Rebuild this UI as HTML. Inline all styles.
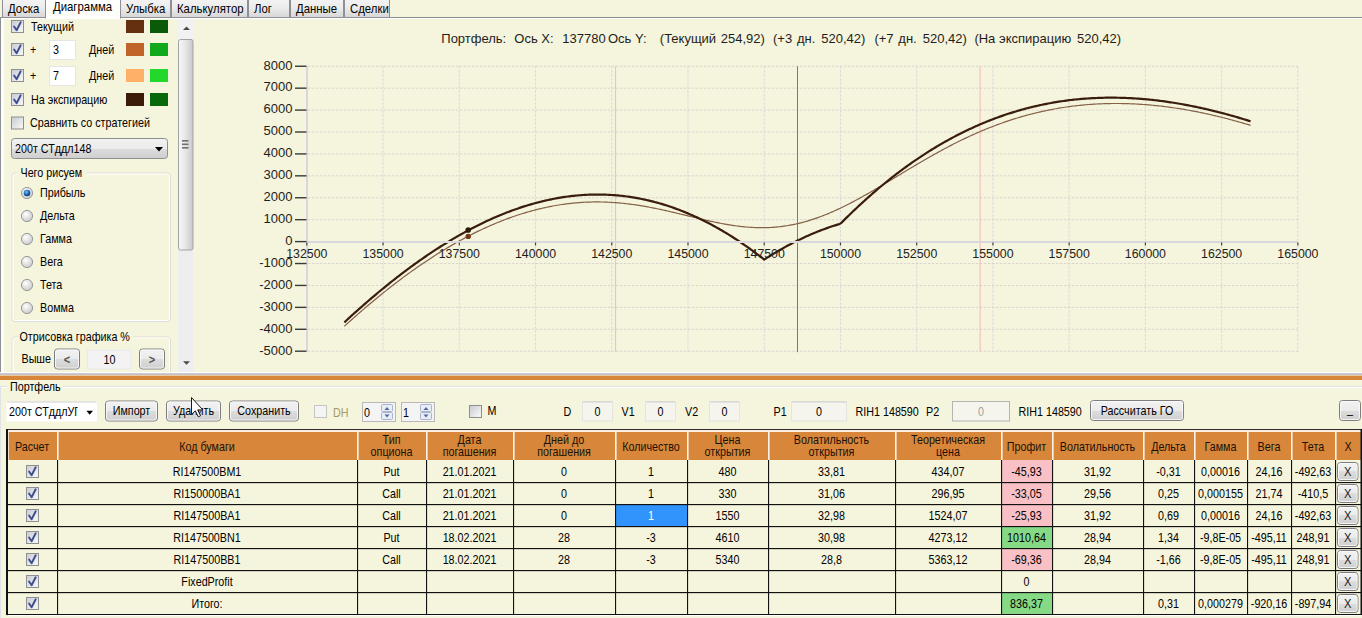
<!DOCTYPE html>
<html><head><meta charset="utf-8"><title>Портфель</title>
<style>html,body{margin:0;padding:0;background:#F5F4DC;overflow:hidden;width:1362px;height:618px}svg{display:block}</style>
</head><body>
<svg width="1362" height="618" viewBox="0 0 1362 618" font-family="'Liberation Sans', Arial, sans-serif">
<defs>
 <linearGradient id="gTab" x1="0" y1="0" x2="0" y2="1">
  <stop offset="0" stop-color="#f4f4f4"/><stop offset="0.5" stop-color="#ebebeb"/><stop offset="1" stop-color="#d6d6d6"/>
 </linearGradient>
 <linearGradient id="gSelTab" x1="0" y1="0" x2="0" y2="1">
  <stop offset="0" stop-color="#ffffff"/><stop offset="1" stop-color="#fbfbf6"/>
 </linearGradient>
 <linearGradient id="gBtn" x1="0" y1="0" x2="0" y2="1">
  <stop offset="0" stop-color="#f2f2f2"/><stop offset="0.5" stop-color="#ebebeb"/><stop offset="0.5" stop-color="#dddddd"/><stop offset="1" stop-color="#cfcfcf"/>
 </linearGradient>
 <linearGradient id="gChk" x1="0" y1="0" x2="1" y2="1">
  <stop offset="0" stop-color="#cbcfd5"/><stop offset="1" stop-color="#f6f6f6"/>
 </linearGradient>
 <linearGradient id="gThumb" x1="0" y1="0" x2="1" y2="0">
  <stop offset="0" stop-color="#f7f7f7"/><stop offset="0.45" stop-color="#e8e8ea"/><stop offset="1" stop-color="#c9c9cc"/>
 </linearGradient>
 <radialGradient id="gRadio" cx="0.4" cy="0.35" r="0.7">
  <stop offset="0" stop-color="#ffffff"/><stop offset="1" stop-color="#c8c8c8"/>
 </radialGradient>
 <radialGradient id="gRadioOn" cx="0.4" cy="0.35" r="0.6">
  <stop offset="0" stop-color="#7fc4f4"/><stop offset="0.6" stop-color="#1f6fc0"/><stop offset="1" stop-color="#0d3f7a"/>
 </radialGradient>
</defs>
<rect x="0" y="0" width="1362" height="618" fill="#F5F4DC" />
<rect x="2.5" y="-1.5" width="43" height="19" fill="url(#gTab)" stroke="#8f9095" stroke-width="1" />
<text transform="translate(8.00 13.00) scale(0.91 1)" font-size="12.5" fill="#000" text-anchor="start" >Доска</text>
<rect x="120.5" y="-1.5" width="50" height="19" fill="url(#gTab)" stroke="#8f9095" stroke-width="1" />
<text transform="translate(126.00 13.00) scale(0.91 1)" font-size="12.5" fill="#000" text-anchor="start" >Улыбка</text>
<rect x="171.5" y="-1.5" width="76" height="19" fill="url(#gTab)" stroke="#8f9095" stroke-width="1" />
<text transform="translate(177.00 13.00) scale(0.91 1)" font-size="12.5" fill="#000" text-anchor="start" >Калькулятор</text>
<rect x="248.5" y="-1.5" width="41" height="19" fill="url(#gTab)" stroke="#8f9095" stroke-width="1" />
<text transform="translate(254.00 13.00) scale(0.91 1)" font-size="12.5" fill="#000" text-anchor="start" >Лог</text>
<rect x="290.5" y="-1.5" width="53" height="19" fill="url(#gTab)" stroke="#8f9095" stroke-width="1" />
<text transform="translate(296.00 13.00) scale(0.91 1)" font-size="12.5" fill="#000" text-anchor="start" >Данные</text>
<rect x="344.5" y="-1.5" width="45" height="19" fill="url(#gTab)" stroke="#8f9095" stroke-width="1" />
<text transform="translate(350.00 13.00) scale(0.91 1)" font-size="12.5" fill="#000" text-anchor="start" >Сделки</text>
<line x1="0" y1="17.5" x2="1362" y2="17.5" stroke="#8f9095" stroke-width="1" />
<line x1="0" y1="18.5" x2="1362" y2="18.5" stroke="#ffffff" stroke-width="1" />
<rect x="45.5" y="-1.5" width="75" height="19.5" fill="url(#gSelTab)" stroke="#8f9095" stroke-width="1" />
<rect x="46" y="16" width="74" height="3" fill="#ffffff" />
<text transform="translate(53.00 11.00) scale(0.91 1)" font-size="12.5" fill="#000" text-anchor="start" >Диаграмма</text>
<line x1="0.5" y1="17" x2="0.5" y2="374" stroke="#8f9095" stroke-width="1" />
<rect x="1" y="19" width="3" height="353" fill="#fdfdf8" />
<line x1="1" y1="372.5" x2="195" y2="372.5" stroke="#ffffff" stroke-width="1" />
<rect x="11.5" y="20.5" width="12" height="12" fill="url(#gChk)" stroke="#8e8f8f" stroke-width="1" />
<rect x="13" y="22" width="9" height="9" fill="url(#gChk)" />
<path d="M14.1,26.5 L16.6,30.3 L20.7,22.3" fill="none" stroke="#3d4e8f" stroke-width="1.9" stroke-linejoin="round" stroke-linecap="round"/>
<text transform="translate(31.00 31.00) scale(0.86 1)" font-size="12.5" fill="#000" text-anchor="start" >Текущий</text>
<rect x="126" y="20" width="18" height="13" fill="#64300F" />
<rect x="150" y="20" width="18" height="13" fill="#0A5A0A" />
<rect x="11.5" y="43.5" width="12" height="12" fill="url(#gChk)" stroke="#8e8f8f" stroke-width="1" />
<rect x="13" y="45" width="9" height="9" fill="url(#gChk)" />
<path d="M14.1,49.5 L16.6,53.3 L20.7,45.3" fill="none" stroke="#3d4e8f" stroke-width="1.9" stroke-linejoin="round" stroke-linecap="round"/>
<text transform="translate(30.00 54.00) scale(0.86 1)" font-size="12.5" fill="#000" text-anchor="start" >+</text>
<rect x="49.5" y="40.5" width="26" height="19" fill="#ffffff" stroke="#e6e6e6" stroke-width="1" />
<text transform="translate(53.00 54.00) scale(0.86 1)" font-size="12.5" fill="#000" text-anchor="start" >3</text>
<text transform="translate(89.00 54.00) scale(0.86 1)" font-size="12.5" fill="#000" text-anchor="start" >Дней</text>
<rect x="126" y="43" width="18" height="13" fill="#C0642A" />
<rect x="150" y="43" width="18" height="13" fill="#12A81C" />
<rect x="11.5" y="69.5" width="12" height="12" fill="url(#gChk)" stroke="#8e8f8f" stroke-width="1" />
<rect x="13" y="71" width="9" height="9" fill="url(#gChk)" />
<path d="M14.1,75.5 L16.6,79.3 L20.7,71.3" fill="none" stroke="#3d4e8f" stroke-width="1.9" stroke-linejoin="round" stroke-linecap="round"/>
<text transform="translate(30.00 80.00) scale(0.86 1)" font-size="12.5" fill="#000" text-anchor="start" >+</text>
<rect x="49.5" y="66.5" width="26" height="19" fill="#ffffff" stroke="#e6e6e6" stroke-width="1" />
<text transform="translate(53.00 80.00) scale(0.86 1)" font-size="12.5" fill="#000" text-anchor="start" >7</text>
<text transform="translate(89.00 80.00) scale(0.86 1)" font-size="12.5" fill="#000" text-anchor="start" >Дней</text>
<rect x="126" y="69" width="18" height="13" fill="#FDB066" />
<rect x="150" y="69" width="18" height="13" fill="#22D82A" />
<rect x="11.5" y="93.5" width="12" height="12" fill="url(#gChk)" stroke="#8e8f8f" stroke-width="1" />
<rect x="13" y="95" width="9" height="9" fill="url(#gChk)" />
<path d="M14.1,99.5 L16.6,103.3 L20.7,95.3" fill="none" stroke="#3d4e8f" stroke-width="1.9" stroke-linejoin="round" stroke-linecap="round"/>
<text transform="translate(31.00 104.00) scale(0.86 1)" font-size="12.5" fill="#000" text-anchor="start" >На экспирацию</text>
<rect x="126" y="93" width="18" height="13" fill="#3C1B08" />
<rect x="150" y="93" width="18" height="13" fill="#08690A" />
<rect x="11.5" y="117.0" width="12" height="12" fill="url(#gChk)" stroke="#8e8f8f" stroke-width="1" />
<rect x="13" y="118.5" width="9" height="9" fill="url(#gChk)" />
<text transform="translate(30.00 127.00) scale(0.86 1)" font-size="12.5" fill="#000" text-anchor="start" >Сравнить со стратегией</text>
<rect x="11.5" y="138.5" width="156" height="20" fill="url(#gBtn)" stroke="#8e8f8f" stroke-width="1" rx="3" />
<text transform="translate(15.00 153.00) scale(0.86 1)" font-size="12.5" fill="#000" text-anchor="start" >200т СТддл148</text>
<path d="M155,147 L163,147 L159,151.5 Z" fill="#000"/>
<rect x="12.0" y="173.0" width="158.5" height="148.5" fill="none" stroke="#dcdcd8" stroke-width="1" rx="3" />
<rect x="13.0" y="174.0" width="156.5" height="146.5" fill="none" stroke="#ffffff" stroke-width="1" rx="2" />
<rect x="18.5" y="168.5" width="68" height="8" fill="#F5F4DC" />
<text transform="translate(20.50 176.50) scale(0.86 1)" font-size="12.5" fill="#000" text-anchor="start" >Чего рисуем</text>
<circle cx="27" cy="193" r="5.6" fill="url(#gRadio)" stroke="#9a9a9a" stroke-width="1"/>
<circle cx="27" cy="193" r="3.3" fill="url(#gRadioOn)"/>
<text transform="translate(40.00 197.00) scale(0.86 1)" font-size="12.5" fill="#000" text-anchor="start" >Прибыль</text>
<circle cx="27" cy="216" r="5.6" fill="url(#gRadio)" stroke="#9a9a9a" stroke-width="1"/>
<text transform="translate(40.00 220.00) scale(0.86 1)" font-size="12.5" fill="#000" text-anchor="start" >Дельта</text>
<circle cx="27" cy="239" r="5.6" fill="url(#gRadio)" stroke="#9a9a9a" stroke-width="1"/>
<text transform="translate(40.00 243.00) scale(0.86 1)" font-size="12.5" fill="#000" text-anchor="start" >Гамма</text>
<circle cx="27" cy="262" r="5.6" fill="url(#gRadio)" stroke="#9a9a9a" stroke-width="1"/>
<text transform="translate(40.00 266.00) scale(0.86 1)" font-size="12.5" fill="#000" text-anchor="start" >Вега</text>
<circle cx="27" cy="285" r="5.6" fill="url(#gRadio)" stroke="#9a9a9a" stroke-width="1"/>
<text transform="translate(40.00 289.00) scale(0.86 1)" font-size="12.5" fill="#000" text-anchor="start" >Тета</text>
<circle cx="27" cy="308" r="5.6" fill="url(#gRadio)" stroke="#9a9a9a" stroke-width="1"/>
<text transform="translate(40.00 312.00) scale(0.86 1)" font-size="12.5" fill="#000" text-anchor="start" >Вомма</text>
<clipPath id="cpLP"><rect x="0" y="0" width="178" height="372"/></clipPath><g clip-path="url(#cpLP)">
<rect x="12.0" y="337.0" width="158.5" height="43.5" fill="none" stroke="#dcdcd8" stroke-width="1" rx="3" />
<rect x="13.0" y="338.0" width="156.5" height="41.5" fill="none" stroke="#ffffff" stroke-width="1" rx="2" />
<rect x="17.5" y="332.5" width="116" height="8" fill="#F5F4DC" />
<text transform="translate(19.50 340.50) scale(0.86 1)" font-size="12.5" fill="#000" text-anchor="start" >Отрисовка графика %</text>
</g>
<text transform="translate(21.50 363.00) scale(0.86 1)" font-size="12.5" fill="#000" text-anchor="start" >Выше</text>
<rect x="54.5" y="349.0" width="25" height="20" fill="url(#gBtn)" stroke="#7e7e7e" stroke-width="1" rx="3" />
<rect x="55.5" y="350.0" width="23" height="18" fill="none" stroke="#fbfbfb" stroke-width="1" rx="2" stroke-opacity="0.8"/>
<text transform="translate(67.00 363.00) scale(0.86 1)" font-size="12.5" fill="#444" text-anchor="middle" ></text>
<text x="67" y="364" font-size="13" font-weight="bold" fill="#555" text-anchor="middle" transform="translate(67 0) scale(0.85 1) translate(-67 0)">&lt;</text>
<rect x="87.5" y="350" width="43.5" height="19" fill="#f3f3f3" stroke="#e8e8e8" stroke-width="1" />
<text transform="translate(109.50 364.00) scale(0.86 1)" font-size="12.5" fill="#000" text-anchor="middle" >10</text>
<rect x="139.5" y="349.0" width="25" height="20" fill="url(#gBtn)" stroke="#7e7e7e" stroke-width="1" rx="3" />
<rect x="140.5" y="350.0" width="23" height="18" fill="none" stroke="#fbfbfb" stroke-width="1" rx="2" stroke-opacity="0.8"/>
<text transform="translate(152.00 363.00) scale(0.86 1)" font-size="12.5" fill="#444" text-anchor="middle" ></text>
<text x="152" y="364" font-size="13" font-weight="bold" fill="#555" text-anchor="middle" transform="translate(152 0) scale(0.85 1) translate(-152 0)">&gt;</text>
<rect x="178" y="19" width="15.5" height="354" fill="#eeeef1" />
<rect x="178" y="19" width="15.5" height="20" fill="#f2f2f4" />
<path d="M183,30 L190,30 L186.5,26.5 Z" fill="#4a4a4a"/>
<rect x="178.5" y="39.5" width="14.5" height="210.5" fill="url(#gThumb)" stroke="#a3a3a6" stroke-width="1" rx="2" />
<rect x="182" y="140" width="6.5" height="1.6" fill="#707070" />
<rect x="182" y="143.5" width="6.5" height="1.6" fill="#707070" />
<rect x="182" y="147" width="6.5" height="1.6" fill="#707070" />
<path d="M183,361.3 L190,361.3 L186.5,364.8 Z" fill="#4a4a4a"/>
<line x1="307.82" y1="351.2" x2="1297.875" y2="351.2" stroke="#d8d6cf" stroke-width="1" stroke-dasharray="2.5,1.5"/>
<line x1="307.82" y1="329.28" x2="1297.875" y2="329.28" stroke="#d8d6cf" stroke-width="1" stroke-dasharray="2.5,1.5"/>
<line x1="307.82" y1="307.36" x2="1297.875" y2="307.36" stroke="#d8d6cf" stroke-width="1" stroke-dasharray="2.5,1.5"/>
<line x1="307.82" y1="285.44" x2="1297.875" y2="285.44" stroke="#d8d6cf" stroke-width="1" stroke-dasharray="2.5,1.5"/>
<line x1="307.82" y1="263.52" x2="1297.875" y2="263.52" stroke="#d8d6cf" stroke-width="1" stroke-dasharray="2.5,1.5"/>
<line x1="307.82" y1="219.68" x2="1297.875" y2="219.68" stroke="#d8d6cf" stroke-width="1" stroke-dasharray="2.5,1.5"/>
<line x1="307.82" y1="197.76" x2="1297.875" y2="197.76" stroke="#d8d6cf" stroke-width="1" stroke-dasharray="2.5,1.5"/>
<line x1="307.82" y1="175.84" x2="1297.875" y2="175.84" stroke="#d8d6cf" stroke-width="1" stroke-dasharray="2.5,1.5"/>
<line x1="307.82" y1="153.92000000000002" x2="1297.875" y2="153.92000000000002" stroke="#d8d6cf" stroke-width="1" stroke-dasharray="2.5,1.5"/>
<line x1="307.82" y1="132.0" x2="1297.875" y2="132.0" stroke="#d8d6cf" stroke-width="1" stroke-dasharray="2.5,1.5"/>
<line x1="307.82" y1="110.08000000000001" x2="1297.875" y2="110.08000000000001" stroke="#d8d6cf" stroke-width="1" stroke-dasharray="2.5,1.5"/>
<line x1="307.82" y1="88.16" x2="1297.875" y2="88.16" stroke="#d8d6cf" stroke-width="1" stroke-dasharray="2.5,1.5"/>
<line x1="307.82" y1="66.24000000000001" x2="1297.875" y2="66.24000000000001" stroke="#d8d6cf" stroke-width="1" stroke-dasharray="2.5,1.5"/>
<line x1="383.055" y1="66.24000000000001" x2="383.055" y2="351.7" stroke="#d9d7dd" stroke-width="1" stroke-dasharray="2.5,1.5"/>
<line x1="459.28999999999996" y1="66.24000000000001" x2="459.28999999999996" y2="351.7" stroke="#d9d7dd" stroke-width="1" stroke-dasharray="2.5,1.5"/>
<line x1="535.525" y1="66.24000000000001" x2="535.525" y2="351.7" stroke="#d9d7dd" stroke-width="1" stroke-dasharray="2.5,1.5"/>
<line x1="611.76" y1="66.24000000000001" x2="611.76" y2="351.7" stroke="#d9d7dd" stroke-width="1" stroke-dasharray="2.5,1.5"/>
<line x1="687.995" y1="66.24000000000001" x2="687.995" y2="351.7" stroke="#d9d7dd" stroke-width="1" stroke-dasharray="2.5,1.5"/>
<line x1="764.23" y1="66.24000000000001" x2="764.23" y2="351.7" stroke="#d9d7dd" stroke-width="1" stroke-dasharray="2.5,1.5"/>
<line x1="840.4649999999999" y1="66.24000000000001" x2="840.4649999999999" y2="351.7" stroke="#d9d7dd" stroke-width="1" stroke-dasharray="2.5,1.5"/>
<line x1="916.7" y1="66.24000000000001" x2="916.7" y2="351.7" stroke="#d9d7dd" stroke-width="1" stroke-dasharray="2.5,1.5"/>
<line x1="992.935" y1="66.24000000000001" x2="992.935" y2="351.7" stroke="#d9d7dd" stroke-width="1" stroke-dasharray="2.5,1.5"/>
<line x1="1069.17" y1="66.24000000000001" x2="1069.17" y2="351.7" stroke="#d9d7dd" stroke-width="1" stroke-dasharray="2.5,1.5"/>
<line x1="1145.405" y1="66.24000000000001" x2="1145.405" y2="351.7" stroke="#d9d7dd" stroke-width="1" stroke-dasharray="2.5,1.5"/>
<line x1="1221.64" y1="66.24000000000001" x2="1221.64" y2="351.7" stroke="#d9d7dd" stroke-width="1" stroke-dasharray="2.5,1.5"/>
<line x1="1297.875" y1="66.24000000000001" x2="1297.875" y2="351.7" stroke="#d9d7dd" stroke-width="1" stroke-dasharray="2.5,1.5"/>
<line x1="615.6" y1="66.24000000000001" x2="615.6" y2="351.7" stroke="#f5b8b8" stroke-width="1" />
<line x1="980.1" y1="66.24000000000001" x2="980.1" y2="351.7" stroke="#f5b8b8" stroke-width="1" />
<line x1="797.5" y1="66.24000000000001" x2="797.5" y2="352.2" stroke="#6d7b96" stroke-width="1" />
<path d="M344.36,326.25 L345.87,324.88 L347.38,323.51 L348.89,322.15 L350.40,320.79 L351.91,319.44 L353.42,318.10 L354.93,316.76 L356.44,315.43 L357.95,314.10 L359.46,312.78 L360.97,311.47 L362.48,310.16 L363.99,308.86 L365.50,307.57 L367.01,306.28 L368.52,305.00 L370.03,303.73 L371.54,302.46 L373.06,301.20 L374.57,299.94 L376.08,298.70 L377.59,297.45 L379.10,296.22 L380.61,294.99 L382.12,293.77 L383.63,292.56 L385.14,291.35 L386.65,290.15 L388.16,288.95 L389.67,287.77 L391.18,286.58 L392.69,285.41 L394.20,284.24 L395.71,283.09 L397.22,281.93 L398.73,280.79 L400.24,279.65 L401.75,278.52 L403.26,277.39 L404.77,276.28 L406.28,275.17 L407.79,274.06 L409.30,272.97 L410.81,271.88 L412.32,270.80 L413.84,269.73 L415.35,268.66 L416.86,267.60 L418.37,266.55 L419.88,265.51 L421.39,264.47 L422.90,263.44 L424.41,262.42 L425.92,261.41 L427.43,260.40 L428.94,259.40 L430.45,258.41 L431.96,257.43 L433.47,256.45 L434.98,255.49 L436.49,254.53 L438.00,253.57 L439.51,252.63 L441.02,251.69 L442.53,250.76 L444.04,249.84 L445.55,248.93 L447.06,248.03 L448.57,247.13 L450.08,246.24 L451.59,245.36 L453.10,244.49 L454.61,243.62 L456.13,242.77 L457.64,241.92 L459.15,241.08 L460.66,240.25 L462.17,239.42 L463.68,238.61 L465.19,237.80 L466.70,237.00 L468.21,236.21 L469.72,235.43 L471.23,234.66 L472.74,233.89 L474.25,233.13 L475.76,232.39 L477.27,231.65 L478.78,230.91 L480.29,230.19 L481.80,229.48 L483.31,228.77 L484.82,228.08 L486.33,227.39 L487.84,226.71 L489.35,226.04 L490.86,225.38 L492.37,224.72 L493.88,224.08 L495.39,223.44 L496.91,222.81 L498.42,222.20 L499.93,221.59 L501.44,220.99 L502.95,220.40 L504.46,219.81 L505.97,219.24 L507.48,218.68 L508.99,218.12 L510.50,217.57 L512.01,217.04 L513.52,216.51 L515.03,215.99 L516.54,215.48 L518.05,214.98 L519.56,214.49 L521.07,214.00 L522.58,213.53 L524.09,213.07 L525.60,212.61 L527.11,212.17 L528.62,211.73 L530.13,211.30 L531.64,210.88 L533.15,210.48 L534.66,210.08 L536.17,209.69 L537.69,209.31 L539.20,208.94 L540.71,208.58 L542.22,208.22 L543.73,207.88 L545.24,207.55 L546.75,207.23 L548.26,206.91 L549.77,206.61 L551.28,206.31 L552.79,206.03 L554.30,205.75 L555.81,205.49 L557.32,205.23 L558.83,204.99 L560.34,204.75 L561.85,204.52 L563.36,204.30 L564.87,204.09 L566.38,203.90 L567.89,203.71 L569.40,203.53 L570.91,203.36 L572.42,203.20 L573.93,203.05 L575.44,202.91 L576.95,202.78 L578.47,202.66 L579.98,202.54 L581.49,202.44 L583.00,202.35 L584.51,202.27 L586.02,202.19 L587.53,202.13 L589.04,202.08 L590.55,202.03 L592.06,202.00 L593.57,201.97 L595.08,201.95 L596.59,201.95 L598.10,201.95 L599.61,201.96 L601.12,201.98 L602.63,202.01 L604.14,202.06 L605.65,202.10 L607.16,202.16 L608.67,202.23 L610.18,202.31 L611.69,202.39 L613.20,202.49 L614.71,202.59 L616.22,202.70 L617.73,202.82 L619.25,202.95 L620.76,203.09 L622.27,203.24 L623.78,203.40 L625.29,203.56 L626.80,203.73 L628.31,203.91 L629.82,204.10 L631.33,204.30 L632.84,204.50 L634.35,204.71 L635.86,204.93 L637.37,205.16 L638.88,205.39 L640.39,205.63 L641.90,205.88 L643.41,206.14 L644.92,206.40 L646.43,206.67 L647.94,206.94 L649.45,207.22 L650.96,207.51 L652.47,207.80 L653.98,208.10 L655.49,208.41 L657.00,208.72 L658.51,209.03 L660.02,209.35 L661.54,209.68 L663.05,210.01 L664.56,210.34 L666.07,210.68 L667.58,211.02 L669.09,211.36 L670.60,211.71 L672.11,212.06 L673.62,212.42 L675.13,212.77 L676.64,213.13 L678.15,213.49 L679.66,213.86 L681.17,214.22 L682.68,214.59 L684.19,214.95 L685.70,215.32 L687.21,215.69 L688.72,216.06 L690.23,216.42 L691.74,216.79 L693.25,217.16 L694.76,217.52 L696.27,217.88 L697.78,218.25 L699.29,218.61 L700.80,218.96 L702.32,219.32 L703.83,219.67 L705.34,220.02 L706.85,220.36 L708.36,220.70 L709.87,221.04 L711.38,221.37 L712.89,221.70 L714.40,222.02 L715.91,222.33 L717.42,222.64 L718.93,222.94 L720.44,223.24 L721.95,223.53 L723.46,223.81 L724.97,224.09 L726.48,224.36 L727.99,224.62 L729.50,224.87 L731.01,225.11 L732.52,225.34 L734.03,225.57 L735.54,225.78 L737.05,225.98 L738.56,226.18 L740.07,226.36 L741.58,226.54 L743.10,226.70 L744.61,226.85 L746.12,226.99 L747.63,227.12 L749.14,227.23 L750.65,227.34 L752.16,227.43 L753.67,227.51 L755.18,227.57 L756.69,227.63 L758.20,227.66 L759.71,227.69 L761.22,227.70 L762.73,227.70 L764.24,227.69 L765.75,227.66 L767.26,227.62 L768.77,227.56 L770.28,227.49 L771.79,227.40 L773.30,227.30 L774.81,227.19 L776.32,227.06 L777.83,226.91 L779.34,226.75 L780.85,226.58 L782.36,226.39 L783.88,226.18 L785.39,225.96 L786.90,225.73 L788.41,225.48 L789.92,225.21 L791.43,224.93 L792.94,224.64 L794.45,224.33 L795.96,224.00 L797.47,223.66 L798.98,223.30 L800.49,222.93 L802.00,222.55 L803.51,222.15 L805.02,221.73 L806.53,221.30 L808.04,220.86 L809.55,220.40 L811.06,219.93 L812.57,219.44 L814.08,218.94 L815.59,218.42 L817.10,217.89 L818.61,217.35 L820.12,216.80 L821.63,216.23 L823.14,215.65 L824.66,215.05 L826.17,214.44 L827.68,213.82 L829.19,213.19 L830.70,212.55 L832.21,211.89 L833.72,211.23 L835.23,210.55 L836.74,209.86 L838.25,209.16 L839.76,208.45 L841.27,207.72 L842.78,206.99 L844.29,206.25 L845.80,205.50 L847.31,204.74 L848.82,203.97 L850.33,203.19 L851.84,202.40 L853.35,201.61 L854.86,200.81 L856.37,199.99 L857.88,199.18 L859.39,198.35 L860.90,197.52 L862.41,196.68 L863.92,195.83 L865.44,194.98 L866.95,194.13 L868.46,193.26 L869.97,192.40 L871.48,191.52 L872.99,190.65 L874.50,189.77 L876.01,188.88 L877.52,187.99 L879.03,187.10 L880.54,186.20 L882.05,185.31 L883.56,184.41 L885.07,183.50 L886.58,182.60 L888.09,181.69 L889.60,180.78 L891.11,179.87 L892.62,178.96 L894.13,178.05 L895.64,177.14 L897.15,176.23 L898.66,175.32 L900.17,174.40 L901.68,173.49 L903.19,172.58 L904.70,171.67 L906.21,170.77 L907.73,169.86 L909.24,168.96 L910.75,168.05 L912.26,167.15 L913.77,166.26 L915.28,165.36 L916.79,164.47 L918.30,163.58 L919.81,162.69 L921.32,161.81 L922.83,160.93 L924.34,160.06 L925.85,159.18 L927.36,158.32 L928.87,157.45 L930.38,156.59 L931.89,155.74 L933.40,154.89 L934.91,154.05 L936.42,153.21 L937.93,152.37 L939.44,151.54 L940.95,150.72 L942.46,149.90 L943.97,149.09 L945.48,148.28 L946.99,147.48 L948.51,146.69 L950.02,145.90 L951.53,145.12 L953.04,144.34 L954.55,143.57 L956.06,142.81 L957.57,142.05 L959.08,141.30 L960.59,140.56 L962.10,139.82 L963.61,139.09 L965.12,138.37 L966.63,137.66 L968.14,136.95 L969.65,136.25 L971.16,135.55 L972.67,134.87 L974.18,134.19 L975.69,133.52 L977.20,132.85 L978.71,132.19 L980.22,131.54 L981.73,130.90 L983.24,130.27 L984.75,129.64 L986.26,129.02 L987.77,128.41 L989.29,127.80 L990.80,127.20 L992.31,126.61 L993.82,126.03 L995.33,125.46 L996.84,124.89 L998.35,124.33 L999.86,123.78 L1001.37,123.24 L1002.88,122.70 L1004.39,122.17 L1005.90,121.65 L1007.41,121.14 L1008.92,120.63 L1010.43,120.14 L1011.94,119.65 L1013.45,119.17 L1014.96,118.69 L1016.47,118.22 L1017.98,117.76 L1019.49,117.31 L1021.00,116.87 L1022.51,116.43 L1024.02,116.00 L1025.53,115.58 L1027.04,115.17 L1028.55,114.76 L1030.07,114.37 L1031.58,113.97 L1033.09,113.59 L1034.60,113.22 L1036.11,112.85 L1037.62,112.49 L1039.13,112.13 L1040.64,111.79 L1042.15,111.45 L1043.66,111.12 L1045.17,110.79 L1046.68,110.48 L1048.19,110.17 L1049.70,109.87 L1051.21,109.57 L1052.72,109.29 L1054.23,109.01 L1055.74,108.73 L1057.25,108.47 L1058.76,108.21 L1060.27,107.96 L1061.78,107.72 L1063.29,107.48 L1064.80,107.25 L1066.31,107.03 L1067.82,106.81 L1069.33,106.60 L1070.85,106.40 L1072.36,106.21 L1073.87,106.02 L1075.38,105.84 L1076.89,105.66 L1078.40,105.50 L1079.91,105.34 L1081.42,105.18 L1082.93,105.04 L1084.44,104.90 L1085.95,104.77 L1087.46,104.64 L1088.97,104.52 L1090.48,104.41 L1091.99,104.30 L1093.50,104.20 L1095.01,104.11 L1096.52,104.02 L1098.03,103.94 L1099.54,103.87 L1101.05,103.80 L1102.56,103.74 L1104.07,103.69 L1105.58,103.64 L1107.09,103.60 L1108.60,103.57 L1110.11,103.54 L1111.62,103.52 L1113.14,103.50 L1114.65,103.49 L1116.16,103.49 L1117.67,103.49 L1119.18,103.50 L1120.69,103.52 L1122.20,103.54 L1123.71,103.57 L1125.22,103.60 L1126.73,103.64 L1128.24,103.69 L1129.75,103.74 L1131.26,103.80 L1132.77,103.87 L1134.28,103.94 L1135.79,104.01 L1137.30,104.09 L1138.81,104.18 L1140.32,104.28 L1141.83,104.38 L1143.34,104.48 L1144.85,104.59 L1146.36,104.71 L1147.87,104.83 L1149.38,104.96 L1150.89,105.10 L1152.40,105.24 L1153.92,105.38 L1155.43,105.53 L1156.94,105.69 L1158.45,105.85 L1159.96,106.02 L1161.47,106.20 L1162.98,106.37 L1164.49,106.56 L1166.00,106.75 L1167.51,106.94 L1169.02,107.14 L1170.53,107.35 L1172.04,107.56 L1173.55,107.78 L1175.06,108.00 L1176.57,108.23 L1178.08,108.46 L1179.59,108.70 L1181.10,108.94 L1182.61,109.19 L1184.12,109.44 L1185.63,109.70 L1187.14,109.97 L1188.65,110.24 L1190.16,110.51 L1191.67,110.79 L1193.18,111.07 L1194.70,111.36 L1196.21,111.65 L1197.72,111.95 L1199.23,112.26 L1200.74,112.57 L1202.25,112.88 L1203.76,113.20 L1205.27,113.52 L1206.78,113.85 L1208.29,114.18 L1209.80,114.52 L1211.31,114.86 L1212.82,115.21 L1214.33,115.56 L1215.84,115.92 L1217.35,116.28 L1218.86,116.64 L1220.37,117.01 L1221.88,117.39 L1223.39,117.77 L1224.90,118.15 L1226.41,118.54 L1227.92,118.93 L1229.43,119.33 L1230.94,119.73 L1232.45,120.14 L1233.96,120.55 L1235.48,120.97 L1236.99,121.39 L1238.50,121.81 L1240.01,122.24 L1241.52,122.67 L1243.03,123.11 L1244.54,123.55 L1246.05,123.99 L1247.56,124.44 L1249.07,124.90 L1250.58,125.35" fill="none" stroke="#856148" stroke-width="1.2" stroke-linejoin="round"/>
<path d="M344.36,322.33 L345.87,320.94 L347.38,319.54 L348.89,318.16 L350.40,316.78 L351.91,315.41 L353.42,314.04 L354.93,312.68 L356.44,311.33 L357.95,309.98 L359.46,308.63 L360.97,307.30 L362.48,305.97 L363.99,304.65 L365.50,303.33 L367.01,302.02 L368.52,300.72 L370.03,299.42 L371.54,298.13 L373.06,296.84 L374.57,295.56 L376.08,294.29 L377.59,293.03 L379.10,291.77 L380.61,290.52 L382.12,289.27 L383.63,288.04 L385.14,286.81 L386.65,285.58 L388.16,284.36 L389.67,283.15 L391.18,281.95 L392.69,280.75 L394.20,279.56 L395.71,278.38 L397.22,277.20 L398.73,276.03 L400.24,274.87 L401.75,273.72 L403.26,272.57 L404.77,271.43 L406.28,270.30 L407.79,269.17 L409.30,268.05 L410.81,266.94 L412.32,265.84 L413.84,264.74 L415.35,263.65 L416.86,262.57 L418.37,261.49 L419.88,260.42 L421.39,259.36 L422.90,258.31 L424.41,257.27 L425.92,256.23 L427.43,255.20 L428.94,254.18 L430.45,253.16 L431.96,252.16 L433.47,251.16 L434.98,250.17 L436.49,249.19 L438.00,248.21 L439.51,247.24 L441.02,246.28 L442.53,245.33 L444.04,244.39 L445.55,243.45 L447.06,242.52 L448.57,241.60 L450.08,240.69 L451.59,239.79 L453.10,238.89 L454.61,238.00 L456.13,237.12 L457.64,236.25 L459.15,235.39 L460.66,234.53 L462.17,233.69 L463.68,232.85 L465.19,232.02 L466.70,231.20 L468.21,230.38 L469.72,229.58 L471.23,228.78 L472.74,227.99 L474.25,227.21 L475.76,226.44 L477.27,225.68 L478.78,224.93 L480.29,224.18 L481.80,223.45 L483.31,222.72 L484.82,222.00 L486.33,221.29 L487.84,220.58 L489.35,219.89 L490.86,219.21 L492.37,218.53 L493.88,217.86 L495.39,217.21 L496.91,216.56 L498.42,215.92 L499.93,215.29 L501.44,214.66 L502.95,214.05 L504.46,213.45 L505.97,212.85 L507.48,212.27 L508.99,211.69 L510.50,211.12 L512.01,210.56 L513.52,210.01 L515.03,209.47 L516.54,208.94 L518.05,208.42 L519.56,207.91 L521.07,207.40 L522.58,206.91 L524.09,206.42 L525.60,205.95 L527.11,205.48 L528.62,205.02 L530.13,204.58 L531.64,204.14 L533.15,203.71 L534.66,203.29 L536.17,202.88 L537.69,202.48 L539.20,202.09 L540.71,201.71 L542.22,201.34 L543.73,200.98 L545.24,200.63 L546.75,200.28 L548.26,199.95 L549.77,199.63 L551.28,199.31 L552.79,199.01 L554.30,198.72 L555.81,198.43 L557.32,198.16 L558.83,197.90 L560.34,197.64 L561.85,197.40 L563.36,197.16 L564.87,196.94 L566.38,196.72 L567.89,196.52 L569.40,196.32 L570.91,196.14 L572.42,195.96 L573.93,195.80 L575.44,195.64 L576.95,195.50 L578.47,195.36 L579.98,195.24 L581.49,195.12 L583.00,195.02 L584.51,194.93 L586.02,194.84 L587.53,194.77 L589.04,194.70 L590.55,194.65 L592.06,194.61 L593.57,194.57 L595.08,194.55 L596.59,194.54 L598.10,194.54 L599.61,194.55 L601.12,194.56 L602.63,194.59 L604.14,194.63 L605.65,194.68 L607.16,194.74 L608.67,194.81 L610.18,194.89 L611.69,194.98 L613.20,195.09 L614.71,195.20 L616.22,195.32 L617.73,195.45 L619.25,195.60 L620.76,195.75 L622.27,195.92 L623.78,196.09 L625.29,196.28 L626.80,196.47 L628.31,196.68 L629.82,196.90 L631.33,197.13 L632.84,197.37 L634.35,197.61 L635.86,197.87 L637.37,198.15 L638.88,198.43 L640.39,198.72 L641.90,199.02 L643.41,199.33 L644.92,199.66 L646.43,199.99 L647.94,200.34 L649.45,200.69 L650.96,201.06 L652.47,201.44 L653.98,201.83 L655.49,202.23 L657.00,202.64 L658.51,203.06 L660.02,203.49 L661.54,203.93 L663.05,204.38 L664.56,204.85 L666.07,205.32 L667.58,205.81 L669.09,206.31 L670.60,206.81 L672.11,207.33 L673.62,207.86 L675.13,208.40 L676.64,208.95 L678.15,209.51 L679.66,210.09 L681.17,210.67 L682.68,211.26 L684.19,211.87 L685.70,212.48 L687.21,213.11 L688.72,213.75 L690.23,214.40 L691.74,215.06 L693.25,215.73 L694.76,216.41 L696.27,217.10 L697.78,217.81 L699.29,218.52 L700.80,219.25 L702.32,219.98 L703.83,220.73 L705.34,221.49 L706.85,222.26 L708.36,223.04 L709.87,223.83 L711.38,224.63 L712.89,225.44 L714.40,226.27 L715.91,227.10 L717.42,227.95 L718.93,228.81 L720.44,229.67 L721.95,230.55 L723.46,231.44 L724.97,232.34 L726.48,233.25 L727.99,234.18 L729.50,235.11 L731.01,236.05 L732.52,237.01 L734.03,237.98 L735.54,238.95 L737.05,239.94 L738.56,240.94 L740.07,241.95 L741.58,242.97 L743.10,244.01 L744.61,245.05 L746.12,246.10 L747.63,247.17 L749.14,248.24 L750.65,249.33 L752.16,250.43 L753.67,251.54 L755.18,252.66 L756.69,253.79 L758.20,254.93 L759.71,256.08 L761.22,257.24 L762.73,258.42 L764.24,259.59 L765.75,258.61 L767.26,257.65 L768.77,256.69 L770.28,255.75 L771.79,254.81 L773.30,253.89 L774.81,252.98 L776.32,252.08 L777.83,251.19 L779.34,250.31 L780.85,249.44 L782.36,248.59 L783.88,247.74 L785.39,246.90 L786.90,246.08 L788.41,245.27 L789.92,244.46 L791.43,243.67 L792.94,242.89 L794.45,242.12 L795.96,241.36 L797.47,240.61 L798.98,239.87 L800.49,239.14 L802.00,238.42 L803.51,237.72 L805.02,237.02 L806.53,236.33 L808.04,235.66 L809.55,235.00 L811.06,234.34 L812.57,233.70 L814.08,233.07 L815.59,232.45 L817.10,231.83 L818.61,231.23 L820.12,230.64 L821.63,230.07 L823.14,229.50 L824.66,228.94 L826.17,228.39 L827.68,227.85 L829.19,227.33 L830.70,226.81 L832.21,226.31 L833.72,225.81 L835.23,225.33 L836.74,224.85 L838.25,224.39 L839.76,223.93 L841.27,222.91 L842.78,221.39 L844.29,219.88 L845.80,218.39 L847.31,216.90 L848.82,215.42 L850.33,213.95 L851.84,212.50 L853.35,211.05 L854.86,209.61 L856.37,208.19 L857.88,206.77 L859.39,205.36 L860.90,203.97 L862.41,202.58 L863.92,201.21 L865.44,199.84 L866.95,198.49 L868.46,197.14 L869.97,195.81 L871.48,194.48 L872.99,193.17 L874.50,191.86 L876.01,190.57 L877.52,189.28 L879.03,188.01 L880.54,186.75 L882.05,185.49 L883.56,184.25 L885.07,183.01 L886.58,181.79 L888.09,180.57 L889.60,179.37 L891.11,178.17 L892.62,176.98 L894.13,175.81 L895.64,174.64 L897.15,173.49 L898.66,172.34 L900.17,171.20 L901.68,170.08 L903.19,168.96 L904.70,167.85 L906.21,166.75 L907.73,165.67 L909.24,164.59 L910.75,163.52 L912.26,162.46 L913.77,161.41 L915.28,160.37 L916.79,159.34 L918.30,158.32 L919.81,157.30 L921.32,156.30 L922.83,155.31 L924.34,154.33 L925.85,153.35 L927.36,152.39 L928.87,151.43 L930.38,150.48 L931.89,149.55 L933.40,148.62 L934.91,147.70 L936.42,146.79 L937.93,145.89 L939.44,145.00 L940.95,144.12 L942.46,143.25 L943.97,142.38 L945.48,141.53 L946.99,140.69 L948.51,139.85 L950.02,139.02 L951.53,138.20 L953.04,137.40 L954.55,136.60 L956.06,135.80 L957.57,135.02 L959.08,134.25 L960.59,133.48 L962.10,132.73 L963.61,131.98 L965.12,131.24 L966.63,130.52 L968.14,129.80 L969.65,129.08 L971.16,128.38 L972.67,127.69 L974.18,127.00 L975.69,126.32 L977.20,125.66 L978.71,125.00 L980.22,124.35 L981.73,123.70 L983.24,123.07 L984.75,122.44 L986.26,121.83 L987.77,121.22 L989.29,120.62 L990.80,120.03 L992.31,119.44 L993.82,118.87 L995.33,118.30 L996.84,117.74 L998.35,117.19 L999.86,116.65 L1001.37,116.12 L1002.88,115.59 L1004.39,115.08 L1005.90,114.57 L1007.41,114.07 L1008.92,113.57 L1010.43,113.09 L1011.94,112.61 L1013.45,112.14 L1014.96,111.68 L1016.47,111.23 L1017.98,110.78 L1019.49,110.35 L1021.00,109.92 L1022.51,109.50 L1024.02,109.08 L1025.53,108.68 L1027.04,108.28 L1028.55,107.89 L1030.07,107.51 L1031.58,107.14 L1033.09,106.77 L1034.60,106.41 L1036.11,106.06 L1037.62,105.72 L1039.13,105.38 L1040.64,105.05 L1042.15,104.73 L1043.66,104.42 L1045.17,104.11 L1046.68,103.81 L1048.19,103.52 L1049.70,103.24 L1051.21,102.96 L1052.72,102.69 L1054.23,102.43 L1055.74,102.18 L1057.25,101.93 L1058.76,101.69 L1060.27,101.46 L1061.78,101.23 L1063.29,101.02 L1064.80,100.80 L1066.31,100.60 L1067.82,100.40 L1069.33,100.21 L1070.85,100.03 L1072.36,99.86 L1073.87,99.69 L1075.38,99.53 L1076.89,99.37 L1078.40,99.22 L1079.91,99.08 L1081.42,98.95 L1082.93,98.82 L1084.44,98.70 L1085.95,98.59 L1087.46,98.48 L1088.97,98.38 L1090.48,98.29 L1091.99,98.20 L1093.50,98.12 L1095.01,98.05 L1096.52,97.98 L1098.03,97.92 L1099.54,97.87 L1101.05,97.82 L1102.56,97.78 L1104.07,97.75 L1105.58,97.72 L1107.09,97.70 L1108.60,97.69 L1110.11,97.68 L1111.62,97.68 L1113.14,97.68 L1114.65,97.69 L1116.16,97.71 L1117.67,97.73 L1119.18,97.76 L1120.69,97.80 L1122.20,97.84 L1123.71,97.89 L1125.22,97.94 L1126.73,98.00 L1128.24,98.07 L1129.75,98.14 L1131.26,98.22 L1132.77,98.30 L1134.28,98.40 L1135.79,98.49 L1137.30,98.59 L1138.81,98.70 L1140.32,98.82 L1141.83,98.94 L1143.34,99.06 L1144.85,99.19 L1146.36,99.33 L1147.87,99.47 L1149.38,99.62 L1150.89,99.78 L1152.40,99.94 L1153.92,100.10 L1155.43,100.27 L1156.94,100.45 L1158.45,100.63 L1159.96,100.82 L1161.47,101.01 L1162.98,101.21 L1164.49,101.42 L1166.00,101.63 L1167.51,101.84 L1169.02,102.06 L1170.53,102.29 L1172.04,102.52 L1173.55,102.76 L1175.06,103.00 L1176.57,103.25 L1178.08,103.50 L1179.59,103.76 L1181.10,104.02 L1182.61,104.29 L1184.12,104.56 L1185.63,104.84 L1187.14,105.12 L1188.65,105.41 L1190.16,105.71 L1191.67,106.00 L1193.18,106.31 L1194.70,106.62 L1196.21,106.93 L1197.72,107.25 L1199.23,107.57 L1200.74,107.90 L1202.25,108.23 L1203.76,108.57 L1205.27,108.91 L1206.78,109.26 L1208.29,109.61 L1209.80,109.97 L1211.31,110.33 L1212.82,110.70 L1214.33,111.07 L1215.84,111.45 L1217.35,111.83 L1218.86,112.21 L1220.37,112.60 L1221.88,113.00 L1223.39,113.39 L1224.90,113.80 L1226.41,114.20 L1227.92,114.62 L1229.43,115.03 L1230.94,115.45 L1232.45,115.88 L1233.96,116.31 L1235.48,116.74 L1236.99,117.18 L1238.50,117.63 L1240.01,118.07 L1241.52,118.52 L1243.03,118.98 L1244.54,119.44 L1246.05,119.90 L1247.56,120.37 L1249.07,120.84 L1250.58,121.32" fill="none" stroke="#3a1d0c" stroke-width="2.2" stroke-linejoin="round"/>
<circle cx="468.23" cy="236.41" r="2.7" fill="#74361a"/>
<circle cx="468.23" cy="229.99" r="2.8" fill="#2e1808"/>
<line x1="307" y1="66.24000000000001" x2="307" y2="351.7" stroke="#d9d7de" stroke-width="2" />
<line x1="306.82" y1="242" x2="1297.875" y2="242" stroke="#d9d7de" stroke-width="2" />
<line x1="295" y1="351.2" x2="306.5" y2="351.2" stroke="#3a3a36" stroke-width="1.4" />
<text x="292.5" y="354.5" font-size="13" fill="#1e1e1e" text-anchor="end" >-5000</text>
<line x1="295" y1="329.28" x2="306.5" y2="329.28" stroke="#3a3a36" stroke-width="1.4" />
<text x="292.5" y="332.58" font-size="13" fill="#1e1e1e" text-anchor="end" >-4000</text>
<line x1="295" y1="307.36" x2="306.5" y2="307.36" stroke="#3a3a36" stroke-width="1.4" />
<text x="292.5" y="310.66" font-size="13" fill="#1e1e1e" text-anchor="end" >-3000</text>
<line x1="295" y1="285.44" x2="306.5" y2="285.44" stroke="#3a3a36" stroke-width="1.4" />
<text x="292.5" y="288.74" font-size="13" fill="#1e1e1e" text-anchor="end" >-2000</text>
<line x1="295" y1="263.52" x2="306.5" y2="263.52" stroke="#3a3a36" stroke-width="1.4" />
<text x="292.5" y="266.82" font-size="13" fill="#1e1e1e" text-anchor="end" >-1000</text>
<line x1="295" y1="241.6" x2="306.5" y2="241.6" stroke="#3a3a36" stroke-width="1.4" />
<text x="292.5" y="244.9" font-size="13" fill="#1e1e1e" text-anchor="end" >0</text>
<line x1="295" y1="219.68" x2="306.5" y2="219.68" stroke="#3a3a36" stroke-width="1.4" />
<text x="292.5" y="222.98000000000002" font-size="13" fill="#1e1e1e" text-anchor="end" >1000</text>
<line x1="295" y1="197.76" x2="306.5" y2="197.76" stroke="#3a3a36" stroke-width="1.4" />
<text x="292.5" y="201.06" font-size="13" fill="#1e1e1e" text-anchor="end" >2000</text>
<line x1="295" y1="175.84" x2="306.5" y2="175.84" stroke="#3a3a36" stroke-width="1.4" />
<text x="292.5" y="179.14000000000001" font-size="13" fill="#1e1e1e" text-anchor="end" >3000</text>
<line x1="295" y1="153.92000000000002" x2="306.5" y2="153.92000000000002" stroke="#3a3a36" stroke-width="1.4" />
<text x="292.5" y="157.22000000000003" font-size="13" fill="#1e1e1e" text-anchor="end" >4000</text>
<line x1="295" y1="132.0" x2="306.5" y2="132.0" stroke="#3a3a36" stroke-width="1.4" />
<text x="292.5" y="135.3" font-size="13" fill="#1e1e1e" text-anchor="end" >5000</text>
<line x1="295" y1="110.08000000000001" x2="306.5" y2="110.08000000000001" stroke="#3a3a36" stroke-width="1.4" />
<text x="292.5" y="113.38000000000001" font-size="13" fill="#1e1e1e" text-anchor="end" >6000</text>
<line x1="295" y1="88.16" x2="306.5" y2="88.16" stroke="#3a3a36" stroke-width="1.4" />
<text x="292.5" y="91.46" font-size="13" fill="#1e1e1e" text-anchor="end" >7000</text>
<line x1="295" y1="66.24000000000001" x2="306.5" y2="66.24000000000001" stroke="#3a3a36" stroke-width="1.4" />
<text x="292.5" y="69.54" font-size="13" fill="#1e1e1e" text-anchor="end" >8000</text>
<line x1="306.82" y1="242.5" x2="306.82" y2="245.5" stroke="#444" stroke-width="1.2" />
<text transform="translate(306.82 258) scale(0.95 1)" font-size="13" fill="#1e1e1e" text-anchor="middle">132500</text>
<line x1="383.055" y1="242.5" x2="383.055" y2="245.5" stroke="#444" stroke-width="1.2" />
<text transform="translate(383.06 258) scale(0.95 1)" font-size="13" fill="#1e1e1e" text-anchor="middle">135000</text>
<line x1="459.28999999999996" y1="242.5" x2="459.28999999999996" y2="245.5" stroke="#444" stroke-width="1.2" />
<text transform="translate(459.29 258) scale(0.95 1)" font-size="13" fill="#1e1e1e" text-anchor="middle">137500</text>
<line x1="535.525" y1="242.5" x2="535.525" y2="245.5" stroke="#444" stroke-width="1.2" />
<text transform="translate(535.52 258) scale(0.95 1)" font-size="13" fill="#1e1e1e" text-anchor="middle">140000</text>
<line x1="611.76" y1="242.5" x2="611.76" y2="245.5" stroke="#444" stroke-width="1.2" />
<text transform="translate(611.76 258) scale(0.95 1)" font-size="13" fill="#1e1e1e" text-anchor="middle">142500</text>
<line x1="687.995" y1="242.5" x2="687.995" y2="245.5" stroke="#444" stroke-width="1.2" />
<text transform="translate(688.00 258) scale(0.95 1)" font-size="13" fill="#1e1e1e" text-anchor="middle">145000</text>
<line x1="764.23" y1="242.5" x2="764.23" y2="245.5" stroke="#444" stroke-width="1.2" />
<text transform="translate(764.23 258) scale(0.95 1)" font-size="13" fill="#1e1e1e" text-anchor="middle">147500</text>
<line x1="840.4649999999999" y1="242.5" x2="840.4649999999999" y2="245.5" stroke="#444" stroke-width="1.2" />
<text transform="translate(840.46 258) scale(0.95 1)" font-size="13" fill="#1e1e1e" text-anchor="middle">150000</text>
<line x1="916.7" y1="242.5" x2="916.7" y2="245.5" stroke="#444" stroke-width="1.2" />
<text transform="translate(916.70 258) scale(0.95 1)" font-size="13" fill="#1e1e1e" text-anchor="middle">152500</text>
<line x1="992.935" y1="242.5" x2="992.935" y2="245.5" stroke="#444" stroke-width="1.2" />
<text transform="translate(992.93 258) scale(0.95 1)" font-size="13" fill="#1e1e1e" text-anchor="middle">155000</text>
<line x1="1069.17" y1="242.5" x2="1069.17" y2="245.5" stroke="#444" stroke-width="1.2" />
<text transform="translate(1069.17 258) scale(0.95 1)" font-size="13" fill="#1e1e1e" text-anchor="middle">157500</text>
<line x1="1145.405" y1="242.5" x2="1145.405" y2="245.5" stroke="#444" stroke-width="1.2" />
<text transform="translate(1145.40 258) scale(0.95 1)" font-size="13" fill="#1e1e1e" text-anchor="middle">160000</text>
<line x1="1221.64" y1="242.5" x2="1221.64" y2="245.5" stroke="#444" stroke-width="1.2" />
<text transform="translate(1221.64 258) scale(0.95 1)" font-size="13" fill="#1e1e1e" text-anchor="middle">162500</text>
<line x1="1297.875" y1="242.5" x2="1297.875" y2="245.5" stroke="#444" stroke-width="1.2" />
<text transform="translate(1297.88 258) scale(0.95 1)" font-size="13" fill="#1e1e1e" text-anchor="middle">165000</text>
<text x="441.3" y="43" font-size="13" fill="#1e1e1e" text-anchor="start" >Портфель:</text>
<text x="514.3" y="43" font-size="13" fill="#1e1e1e" text-anchor="start" >Ось X:</text>
<text x="562.3" y="43" font-size="13" fill="#1e1e1e" text-anchor="start" >137780</text>
<text x="608" y="43" font-size="13" fill="#1e1e1e" text-anchor="start" >Ось Y:</text>
<text x="659.8" y="43" font-size="13" fill="#1e1e1e" text-anchor="start" >(Текущий</text>
<text x="720.8" y="43" font-size="13" fill="#1e1e1e" text-anchor="start" >254,92)</text>
<text x="773" y="43" font-size="13" fill="#1e1e1e" text-anchor="start" >(+3</text>
<text x="796.9" y="43" font-size="13" fill="#1e1e1e" text-anchor="start" >дн.</text>
<text x="821.3" y="43" font-size="13" fill="#1e1e1e" text-anchor="start" >520,42)</text>
<text x="874.4" y="43" font-size="13" fill="#1e1e1e" text-anchor="start" >(+7</text>
<text x="898.3" y="43" font-size="13" fill="#1e1e1e" text-anchor="start" >дн.</text>
<text x="922.7" y="43" font-size="13" fill="#1e1e1e" text-anchor="start" >520,42)</text>
<text x="974.4" y="43" font-size="13" fill="#1e1e1e" text-anchor="start" >(На</text>
<text x="999.1" y="43" font-size="13" fill="#1e1e1e" text-anchor="start" >экспирацию</text>
<text x="1077" y="43" font-size="13" fill="#1e1e1e" text-anchor="start" >520,42)</text>
<rect x="0" y="372" width="1362" height="1" fill="#ffffff" />
<rect x="0" y="373" width="1362" height="1" fill="#c9c9cf" />
<rect x="0" y="374" width="1362" height="1" fill="#c2c2c6" />
<rect x="0" y="375" width="1362" height="1" fill="#ecc9a2" />
<rect x="0" y="376" width="1362" height="4" fill="#D8863A" />
<rect x="0" y="380" width="1362" height="1" fill="#faf4dc" />
<line x1="0.5" y1="386" x2="0.5" y2="618" stroke="#dfe2e6" stroke-width="1" />
<line x1="1" y1="386.5" x2="1362" y2="386.5" stroke="#e2e2e0" stroke-width="1" />
<line x1="1" y1="387.5" x2="1362" y2="387.5" stroke="#ffffff" stroke-width="1" />
<rect x="7" y="380" width="56" height="10" fill="#F5F4DC" />
<text transform="translate(10.00 391.00) scale(0.86 1)" font-size="12.5" fill="#000" text-anchor="start" >Портфель</text>
<rect x="6.5" y="401.5" width="90.5" height="20" fill="#ffffff" />
<line x1="7" y1="402" x2="96.5" y2="402" stroke="#d0d0d0" stroke-width="1" />
<clipPath id="cpCombo"><rect x="8" y="400" width="69.5" height="22"/></clipPath>
<g clip-path="url(#cpCombo)">
<text transform="translate(9.00 415.60) scale(0.86 1)" font-size="12.5" fill="#000" text-anchor="start" >200т СТддлУГ</text>
</g>
<path d="M86.4,410.8 L93,410.8 L89.7,414.8 Z" fill="#000"/>
<rect x="105.5" y="401.0" width="52" height="20" fill="url(#gBtn)" stroke="#7e7e7e" stroke-width="1" rx="3" />
<rect x="106.5" y="402.0" width="50" height="18" fill="none" stroke="#fbfbfb" stroke-width="1" rx="2" stroke-opacity="0.8"/>
<text transform="translate(131.50 415.00) scale(0.86 1)" font-size="12.5" fill="#000" text-anchor="middle" >Импорт</text>
<rect x="166.5" y="401.0" width="54" height="20" fill="url(#gBtn)" stroke="#7e7e7e" stroke-width="1" rx="3" />
<rect x="167.5" y="402.0" width="52" height="18" fill="none" stroke="#fbfbfb" stroke-width="1" rx="2" stroke-opacity="0.8"/>
<text transform="translate(193.50 415.00) scale(0.86 1)" font-size="12.5" fill="#000" text-anchor="middle" >Удалить</text>
<rect x="229.5" y="401.0" width="69" height="20" fill="url(#gBtn)" stroke="#7e7e7e" stroke-width="1" rx="3" />
<rect x="230.5" y="402.0" width="67" height="18" fill="none" stroke="#fbfbfb" stroke-width="1" rx="2" stroke-opacity="0.8"/>
<text transform="translate(264.00 415.00) scale(0.86 1)" font-size="12.5" fill="#000" text-anchor="middle" >Сохранить</text>
<rect x="314.5" y="405.5" width="12" height="12" fill="#f4f4f4" stroke="#c4c4c4" stroke-width="1" />
<text transform="translate(333.00 416.50) scale(0.86 1)" font-size="12.5" fill="#a29b66" text-anchor="start" >DH</text>
<rect x="362.5" y="402.5" width="33" height="19" fill="#f4f4f4" stroke="#b9b9b9" stroke-width="1" />
<text transform="translate(364.00 417.30) scale(0.86 1)" font-size="12.5" fill="#000" text-anchor="start" >0</text>
<rect x="381.5" y="404.5" width="11" height="7" fill="#e9eef6" stroke="#a9b4c8" stroke-width="1" rx="1" />
<rect x="381.5" y="412.5" width="11" height="7" fill="#e9eef6" stroke="#a9b4c8" stroke-width="1" rx="1" />
<path d="M384.5,410 L389.5,410 L387,407 Z" fill="#4f6aa0"/>
<path d="M384.5,414.5 L389.5,414.5 L387,417.5 Z" fill="#4f6aa0"/>
<rect x="401.5" y="402.5" width="33" height="19" fill="#f4f4f4" stroke="#b9b9b9" stroke-width="1" />
<text transform="translate(403.00 417.30) scale(0.86 1)" font-size="12.5" fill="#000" text-anchor="start" >1</text>
<rect x="420.5" y="404.5" width="11" height="7" fill="#e9eef6" stroke="#a9b4c8" stroke-width="1" rx="1" />
<rect x="420.5" y="412.5" width="11" height="7" fill="#e9eef6" stroke="#a9b4c8" stroke-width="1" rx="1" />
<path d="M423.5,410 L428.5,410 L426,407 Z" fill="#4f6aa0"/>
<path d="M423.5,414.5 L428.5,414.5 L426,417.5 Z" fill="#4f6aa0"/>
<rect x="469.5" y="405.5" width="12" height="12" fill="url(#gChk)" stroke="#8e8f8f" stroke-width="1" />
<rect x="471" y="407" width="9" height="9" fill="url(#gChk)" />
<text transform="translate(487.50 415.00) scale(0.86 1)" font-size="12.5" fill="#000" text-anchor="start" >M</text>
<text transform="translate(563.50 416.00) scale(0.86 1)" font-size="12.5" fill="#000" text-anchor="start" >D</text>
<rect x="582.5" y="401.5" width="30" height="19.5" fill="#f5f5ee" stroke="#e4e4e0" stroke-width="1" />
<line x1="583" y1="402" x2="612" y2="402" stroke="#cfcfcf" stroke-width="1" />
<text transform="translate(597.50 416.00) scale(0.86 1)" font-size="12.5" fill="#000" text-anchor="middle" >0</text>
<text transform="translate(621.50 416.00) scale(0.86 1)" font-size="12.5" fill="#000" text-anchor="start" >V1</text>
<rect x="645.5" y="401.5" width="30" height="19.5" fill="#f5f5ee" stroke="#e4e4e0" stroke-width="1" />
<line x1="646" y1="402" x2="675" y2="402" stroke="#cfcfcf" stroke-width="1" />
<text transform="translate(660.50 416.00) scale(0.86 1)" font-size="12.5" fill="#000" text-anchor="middle" >0</text>
<text transform="translate(685.00 416.00) scale(0.86 1)" font-size="12.5" fill="#000" text-anchor="start" >V2</text>
<rect x="709.5" y="401.5" width="30" height="19.5" fill="#f5f5ee" stroke="#e4e4e0" stroke-width="1" />
<line x1="710" y1="402" x2="739" y2="402" stroke="#cfcfcf" stroke-width="1" />
<text transform="translate(724.50 416.00) scale(0.86 1)" font-size="12.5" fill="#000" text-anchor="middle" >0</text>
<text transform="translate(773.50 416.00) scale(0.86 1)" font-size="12.5" fill="#000" text-anchor="start" >P1</text>
<rect x="791.5" y="401.5" width="55" height="19.5" fill="#f5f5ee" stroke="#e4e4e0" stroke-width="1" />
<line x1="792" y1="402" x2="846" y2="402" stroke="#cfcfcf" stroke-width="1" />
<text transform="translate(819.00 416.00) scale(0.86 1)" font-size="12.5" fill="#000" text-anchor="middle" >0</text>
<text transform="translate(855.50 416.00) scale(0.86 1)" font-size="12.5" fill="#000" text-anchor="start" >RIH1 148590</text>
<text transform="translate(926.00 416.00) scale(0.86 1)" font-size="12.5" fill="#000" text-anchor="start" >P2</text>
<rect x="952.5" y="401.5" width="57" height="19.5" fill="#f5f5ee" stroke="#b4b4b4" stroke-width="1" />
<text transform="translate(981.00 416.00) scale(0.86 1)" font-size="12.5" fill="#a0a0a0" text-anchor="middle" >0</text>
<text transform="translate(1018.50 416.00) scale(0.86 1)" font-size="12.5" fill="#000" text-anchor="start" >RIH1 148590</text>
<rect x="1090.5" y="400.5" width="93" height="20" fill="url(#gBtn)" stroke="#7e7e7e" stroke-width="1" rx="3" />
<rect x="1091.5" y="401.5" width="91" height="18" fill="none" stroke="#fbfbfb" stroke-width="1" rx="2" stroke-opacity="0.8"/>
<text transform="translate(1137.00 414.50) scale(0.86 1)" font-size="12.5" fill="#000" text-anchor="middle" >Рассчитать ГО</text>
<rect x="1339.5" y="400.5" width="21" height="20" fill="url(#gBtn)" stroke="#7e7e7e" stroke-width="1" rx="3" />
<rect x="1340.5" y="401.5" width="19" height="18" fill="none" stroke="#fbfbfb" stroke-width="1" rx="2" stroke-opacity="0.8"/>
<text transform="translate(1350.00 412.80) scale(0.86 1)" font-size="12.5" fill="#000" text-anchor="middle" >_</text>
<rect x="6" y="429" width="1356" height="1.2" fill="#2b2b2b" />
<rect x="8" y="430" width="1353" height="2" fill="#fbeee0" />
<rect x="8" y="432" width="1" height="28" fill="#f3dcc4" />
<rect x="9" y="432" width="1352" height="28" fill="#D8863A" />
<rect x="57" y="432" width="1.6" height="28" fill="#fbf3e8" />
<rect x="357" y="432" width="1.6" height="28" fill="#fbf3e8" />
<rect x="426" y="432" width="1.6" height="28" fill="#fbf3e8" />
<rect x="513" y="432" width="1.6" height="28" fill="#fbf3e8" />
<rect x="615" y="432" width="1.6" height="28" fill="#fbf3e8" />
<rect x="687" y="432" width="1.6" height="28" fill="#fbf3e8" />
<rect x="768" y="432" width="1.6" height="28" fill="#fbf3e8" />
<rect x="895" y="432" width="1.6" height="28" fill="#fbf3e8" />
<rect x="1001" y="432" width="1.6" height="28" fill="#fbf3e8" />
<rect x="1052" y="432" width="1.6" height="28" fill="#fbf3e8" />
<rect x="1143" y="432" width="1.6" height="28" fill="#fbf3e8" />
<rect x="1194" y="432" width="1.6" height="28" fill="#fbf3e8" />
<rect x="1247" y="432" width="1.6" height="28" fill="#fbf3e8" />
<rect x="1291" y="432" width="1.6" height="28" fill="#fbf3e8" />
<rect x="1335" y="432" width="1.6" height="28" fill="#fbf3e8" />
<text transform="translate(32.00 450.50) scale(0.86 1)" font-size="12.5" fill="#1a1208" text-anchor="middle" >Расчет</text>
<text transform="translate(207.00 450.50) scale(0.86 1)" font-size="12.5" fill="#1a1208" text-anchor="middle" >Код бумаги</text>
<text transform="translate(391.50 443.50) scale(0.86 1)" font-size="12.5" fill="#1a1208" text-anchor="middle" >Тип</text>
<text transform="translate(391.50 455.50) scale(0.86 1)" font-size="12.5" fill="#1a1208" text-anchor="middle" >опциона</text>
<text transform="translate(469.50 443.50) scale(0.86 1)" font-size="12.5" fill="#1a1208" text-anchor="middle" >Дата</text>
<text transform="translate(469.50 455.50) scale(0.86 1)" font-size="12.5" fill="#1a1208" text-anchor="middle" >погашения</text>
<text transform="translate(564.00 443.50) scale(0.86 1)" font-size="12.5" fill="#1a1208" text-anchor="middle" >Дней до</text>
<text transform="translate(564.00 455.50) scale(0.86 1)" font-size="12.5" fill="#1a1208" text-anchor="middle" >погашения</text>
<text transform="translate(651.00 450.50) scale(0.86 1)" font-size="12.5" fill="#1a1208" text-anchor="middle" >Количество</text>
<text transform="translate(727.50 443.50) scale(0.86 1)" font-size="12.5" fill="#1a1208" text-anchor="middle" >Цена</text>
<text transform="translate(727.50 455.50) scale(0.86 1)" font-size="12.5" fill="#1a1208" text-anchor="middle" >открытия</text>
<text transform="translate(831.50 443.50) scale(0.86 1)" font-size="12.5" fill="#1a1208" text-anchor="middle" >Волатильность</text>
<text transform="translate(831.50 455.50) scale(0.86 1)" font-size="12.5" fill="#1a1208" text-anchor="middle" >открытия</text>
<text transform="translate(948.00 443.50) scale(0.86 1)" font-size="12.5" fill="#1a1208" text-anchor="middle" >Теоретическая</text>
<text transform="translate(948.00 455.50) scale(0.86 1)" font-size="12.5" fill="#1a1208" text-anchor="middle" >цена</text>
<text transform="translate(1026.50 450.50) scale(0.86 1)" font-size="12.5" fill="#1a1208" text-anchor="middle" >Профит</text>
<text transform="translate(1097.50 450.50) scale(0.86 1)" font-size="12.5" fill="#1a1208" text-anchor="middle" >Волатильность</text>
<text transform="translate(1168.50 450.50) scale(0.86 1)" font-size="12.5" fill="#1a1208" text-anchor="middle" >Дельта</text>
<text transform="translate(1220.50 450.50) scale(0.86 1)" font-size="12.5" fill="#1a1208" text-anchor="middle" >Гамма</text>
<text transform="translate(1269.00 450.50) scale(0.86 1)" font-size="12.5" fill="#1a1208" text-anchor="middle" >Вега</text>
<text transform="translate(1313.00 450.50) scale(0.86 1)" font-size="12.5" fill="#1a1208" text-anchor="middle" >Тета</text>
<text transform="translate(1348.00 450.50) scale(0.86 1)" font-size="12.5" fill="#1a1208" text-anchor="middle" >X</text>
<rect x="1002" y="460" width="50" height="22" fill="#F9C0C6" />
<rect x="26.5" y="465.5" width="12" height="12" fill="url(#gChk)" stroke="#8e8f8f" stroke-width="1" />
<rect x="28" y="467" width="9" height="9" fill="url(#gChk)" />
<path d="M29.1,471.5 L31.6,475.3 L35.7,467.3" fill="none" stroke="#3d4e8f" stroke-width="1.9" stroke-linejoin="round" stroke-linecap="round"/>
<text transform="translate(207.00 476.00) scale(0.86 1)" font-size="12.5" fill="#000" text-anchor="middle" >RI147500BM1</text>
<text transform="translate(391.50 476.00) scale(0.86 1)" font-size="12.5" fill="#000" text-anchor="middle" >Put</text>
<text transform="translate(469.50 476.00) scale(0.86 1)" font-size="12.5" fill="#000" text-anchor="middle" >21.01.2021</text>
<text transform="translate(564.00 476.00) scale(0.86 1)" font-size="12.5" fill="#000" text-anchor="middle" >0</text>
<text transform="translate(651.00 476.00) scale(0.86 1)" font-size="12.5" fill="#000" text-anchor="middle" >1</text>
<text transform="translate(727.50 476.00) scale(0.86 1)" font-size="12.5" fill="#000" text-anchor="middle" >480</text>
<text transform="translate(831.50 476.00) scale(0.86 1)" font-size="12.5" fill="#000" text-anchor="middle" >33,81</text>
<text transform="translate(948.00 476.00) scale(0.86 1)" font-size="12.5" fill="#000" text-anchor="middle" >434,07</text>
<text transform="translate(1026.50 476.00) scale(0.86 1)" font-size="12.5" fill="#000" text-anchor="middle" >-45,93</text>
<text transform="translate(1097.50 476.00) scale(0.86 1)" font-size="12.5" fill="#000" text-anchor="middle" >31,92</text>
<text transform="translate(1168.50 476.00) scale(0.86 1)" font-size="12.5" fill="#000" text-anchor="middle" >-0,31</text>
<text transform="translate(1220.50 476.00) scale(0.86 1)" font-size="12.5" fill="#000" text-anchor="middle" >0,00016</text>
<text transform="translate(1269.00 476.00) scale(0.86 1)" font-size="12.5" fill="#000" text-anchor="middle" >24,16</text>
<text transform="translate(1313.00 476.00) scale(0.86 1)" font-size="12.5" fill="#000" text-anchor="middle" >-492,63</text>
<rect x="1337.5" y="462.5" width="20.5" height="18" fill="url(#gBtn)" stroke="#7e7e7e" stroke-width="1" rx="3" />
<rect x="1338.5" y="463.5" width="18.5" height="16" fill="none" stroke="#fbfbfb" stroke-width="1" rx="2" stroke-opacity="0.8"/>
<text transform="translate(1347.75 475.80) scale(0.86 1)" font-size="13" fill="#222" text-anchor="middle" >X</text>
<rect x="1002" y="482" width="50" height="22" fill="#F9C0C6" />
<rect x="26.5" y="487.5" width="12" height="12" fill="url(#gChk)" stroke="#8e8f8f" stroke-width="1" />
<rect x="28" y="489" width="9" height="9" fill="url(#gChk)" />
<path d="M29.1,493.5 L31.6,497.3 L35.7,489.3" fill="none" stroke="#3d4e8f" stroke-width="1.9" stroke-linejoin="round" stroke-linecap="round"/>
<text transform="translate(207.00 498.00) scale(0.86 1)" font-size="12.5" fill="#000" text-anchor="middle" >RI150000BA1</text>
<text transform="translate(391.50 498.00) scale(0.86 1)" font-size="12.5" fill="#000" text-anchor="middle" >Call</text>
<text transform="translate(469.50 498.00) scale(0.86 1)" font-size="12.5" fill="#000" text-anchor="middle" >21.01.2021</text>
<text transform="translate(564.00 498.00) scale(0.86 1)" font-size="12.5" fill="#000" text-anchor="middle" >0</text>
<text transform="translate(651.00 498.00) scale(0.86 1)" font-size="12.5" fill="#000" text-anchor="middle" >1</text>
<text transform="translate(727.50 498.00) scale(0.86 1)" font-size="12.5" fill="#000" text-anchor="middle" >330</text>
<text transform="translate(831.50 498.00) scale(0.86 1)" font-size="12.5" fill="#000" text-anchor="middle" >31,06</text>
<text transform="translate(948.00 498.00) scale(0.86 1)" font-size="12.5" fill="#000" text-anchor="middle" >296,95</text>
<text transform="translate(1026.50 498.00) scale(0.86 1)" font-size="12.5" fill="#000" text-anchor="middle" >-33,05</text>
<text transform="translate(1097.50 498.00) scale(0.86 1)" font-size="12.5" fill="#000" text-anchor="middle" >29,56</text>
<text transform="translate(1168.50 498.00) scale(0.86 1)" font-size="12.5" fill="#000" text-anchor="middle" >0,25</text>
<text transform="translate(1220.50 498.00) scale(0.86 1)" font-size="12.5" fill="#000" text-anchor="middle" >0,000155</text>
<text transform="translate(1269.00 498.00) scale(0.86 1)" font-size="12.5" fill="#000" text-anchor="middle" >21,74</text>
<text transform="translate(1313.00 498.00) scale(0.86 1)" font-size="12.5" fill="#000" text-anchor="middle" >-410,5</text>
<rect x="1337.5" y="484.5" width="20.5" height="18" fill="url(#gBtn)" stroke="#7e7e7e" stroke-width="1" rx="3" />
<rect x="1338.5" y="485.5" width="18.5" height="16" fill="none" stroke="#fbfbfb" stroke-width="1" rx="2" stroke-opacity="0.8"/>
<text transform="translate(1347.75 497.80) scale(0.86 1)" font-size="13" fill="#222" text-anchor="middle" >X</text>
<rect x="1002" y="504" width="50" height="22" fill="#F9C0C6" />
<rect x="616" y="504" width="71" height="22" fill="#3193FC" />
<rect x="26.5" y="509.5" width="12" height="12" fill="url(#gChk)" stroke="#8e8f8f" stroke-width="1" />
<rect x="28" y="511" width="9" height="9" fill="url(#gChk)" />
<path d="M29.1,515.5 L31.6,519.3 L35.7,511.3" fill="none" stroke="#3d4e8f" stroke-width="1.9" stroke-linejoin="round" stroke-linecap="round"/>
<text transform="translate(207.00 520.00) scale(0.86 1)" font-size="12.5" fill="#000" text-anchor="middle" >RI147500BA1</text>
<text transform="translate(391.50 520.00) scale(0.86 1)" font-size="12.5" fill="#000" text-anchor="middle" >Call</text>
<text transform="translate(469.50 520.00) scale(0.86 1)" font-size="12.5" fill="#000" text-anchor="middle" >21.01.2021</text>
<text transform="translate(564.00 520.00) scale(0.86 1)" font-size="12.5" fill="#000" text-anchor="middle" >0</text>
<text transform="translate(651.00 520.00) scale(0.86 1)" font-size="12.5" fill="#fff" text-anchor="middle" >1</text>
<text transform="translate(727.50 520.00) scale(0.86 1)" font-size="12.5" fill="#000" text-anchor="middle" >1550</text>
<text transform="translate(831.50 520.00) scale(0.86 1)" font-size="12.5" fill="#000" text-anchor="middle" >32,98</text>
<text transform="translate(948.00 520.00) scale(0.86 1)" font-size="12.5" fill="#000" text-anchor="middle" >1524,07</text>
<text transform="translate(1026.50 520.00) scale(0.86 1)" font-size="12.5" fill="#000" text-anchor="middle" >-25,93</text>
<text transform="translate(1097.50 520.00) scale(0.86 1)" font-size="12.5" fill="#000" text-anchor="middle" >31,92</text>
<text transform="translate(1168.50 520.00) scale(0.86 1)" font-size="12.5" fill="#000" text-anchor="middle" >0,69</text>
<text transform="translate(1220.50 520.00) scale(0.86 1)" font-size="12.5" fill="#000" text-anchor="middle" >0,00016</text>
<text transform="translate(1269.00 520.00) scale(0.86 1)" font-size="12.5" fill="#000" text-anchor="middle" >24,16</text>
<text transform="translate(1313.00 520.00) scale(0.86 1)" font-size="12.5" fill="#000" text-anchor="middle" >-492,63</text>
<rect x="1337.5" y="506.5" width="20.5" height="18" fill="url(#gBtn)" stroke="#7e7e7e" stroke-width="1" rx="3" />
<rect x="1338.5" y="507.5" width="18.5" height="16" fill="none" stroke="#fbfbfb" stroke-width="1" rx="2" stroke-opacity="0.8"/>
<text transform="translate(1347.75 519.80) scale(0.86 1)" font-size="13" fill="#222" text-anchor="middle" >X</text>
<rect x="1002" y="526" width="50" height="22" fill="#86DA86" />
<rect x="26.5" y="531.5" width="12" height="12" fill="url(#gChk)" stroke="#8e8f8f" stroke-width="1" />
<rect x="28" y="533" width="9" height="9" fill="url(#gChk)" />
<path d="M29.1,537.5 L31.6,541.3 L35.7,533.3" fill="none" stroke="#3d4e8f" stroke-width="1.9" stroke-linejoin="round" stroke-linecap="round"/>
<text transform="translate(207.00 542.00) scale(0.86 1)" font-size="12.5" fill="#000" text-anchor="middle" >RI147500BN1</text>
<text transform="translate(391.50 542.00) scale(0.86 1)" font-size="12.5" fill="#000" text-anchor="middle" >Put</text>
<text transform="translate(469.50 542.00) scale(0.86 1)" font-size="12.5" fill="#000" text-anchor="middle" >18.02.2021</text>
<text transform="translate(564.00 542.00) scale(0.86 1)" font-size="12.5" fill="#000" text-anchor="middle" >28</text>
<text transform="translate(651.00 542.00) scale(0.86 1)" font-size="12.5" fill="#000" text-anchor="middle" >-3</text>
<text transform="translate(727.50 542.00) scale(0.86 1)" font-size="12.5" fill="#000" text-anchor="middle" >4610</text>
<text transform="translate(831.50 542.00) scale(0.86 1)" font-size="12.5" fill="#000" text-anchor="middle" >30,98</text>
<text transform="translate(948.00 542.00) scale(0.86 1)" font-size="12.5" fill="#000" text-anchor="middle" >4273,12</text>
<text transform="translate(1026.50 542.00) scale(0.86 1)" font-size="12.5" fill="#000" text-anchor="middle" >1010,64</text>
<text transform="translate(1097.50 542.00) scale(0.86 1)" font-size="12.5" fill="#000" text-anchor="middle" >28,94</text>
<text transform="translate(1168.50 542.00) scale(0.86 1)" font-size="12.5" fill="#000" text-anchor="middle" >1,34</text>
<text transform="translate(1220.50 542.00) scale(0.86 1)" font-size="12.5" fill="#000" text-anchor="middle" >-9,8E-05</text>
<text transform="translate(1269.00 542.00) scale(0.86 1)" font-size="12.5" fill="#000" text-anchor="middle" >-495,11</text>
<text transform="translate(1313.00 542.00) scale(0.86 1)" font-size="12.5" fill="#000" text-anchor="middle" >248,91</text>
<rect x="1337.5" y="528.5" width="20.5" height="18" fill="url(#gBtn)" stroke="#7e7e7e" stroke-width="1" rx="3" />
<rect x="1338.5" y="529.5" width="18.5" height="16" fill="none" stroke="#fbfbfb" stroke-width="1" rx="2" stroke-opacity="0.8"/>
<text transform="translate(1347.75 541.80) scale(0.86 1)" font-size="13" fill="#222" text-anchor="middle" >X</text>
<rect x="1002" y="548" width="50" height="22" fill="#F9C0C6" />
<rect x="26.5" y="553.5" width="12" height="12" fill="url(#gChk)" stroke="#8e8f8f" stroke-width="1" />
<rect x="28" y="555" width="9" height="9" fill="url(#gChk)" />
<path d="M29.1,559.5 L31.6,563.3 L35.7,555.3" fill="none" stroke="#3d4e8f" stroke-width="1.9" stroke-linejoin="round" stroke-linecap="round"/>
<text transform="translate(207.00 564.00) scale(0.86 1)" font-size="12.5" fill="#000" text-anchor="middle" >RI147500BB1</text>
<text transform="translate(391.50 564.00) scale(0.86 1)" font-size="12.5" fill="#000" text-anchor="middle" >Call</text>
<text transform="translate(469.50 564.00) scale(0.86 1)" font-size="12.5" fill="#000" text-anchor="middle" >18.02.2021</text>
<text transform="translate(564.00 564.00) scale(0.86 1)" font-size="12.5" fill="#000" text-anchor="middle" >28</text>
<text transform="translate(651.00 564.00) scale(0.86 1)" font-size="12.5" fill="#000" text-anchor="middle" >-3</text>
<text transform="translate(727.50 564.00) scale(0.86 1)" font-size="12.5" fill="#000" text-anchor="middle" >5340</text>
<text transform="translate(831.50 564.00) scale(0.86 1)" font-size="12.5" fill="#000" text-anchor="middle" >28,8</text>
<text transform="translate(948.00 564.00) scale(0.86 1)" font-size="12.5" fill="#000" text-anchor="middle" >5363,12</text>
<text transform="translate(1026.50 564.00) scale(0.86 1)" font-size="12.5" fill="#000" text-anchor="middle" >-69,36</text>
<text transform="translate(1097.50 564.00) scale(0.86 1)" font-size="12.5" fill="#000" text-anchor="middle" >28,94</text>
<text transform="translate(1168.50 564.00) scale(0.86 1)" font-size="12.5" fill="#000" text-anchor="middle" >-1,66</text>
<text transform="translate(1220.50 564.00) scale(0.86 1)" font-size="12.5" fill="#000" text-anchor="middle" >-9,8E-05</text>
<text transform="translate(1269.00 564.00) scale(0.86 1)" font-size="12.5" fill="#000" text-anchor="middle" >-495,11</text>
<text transform="translate(1313.00 564.00) scale(0.86 1)" font-size="12.5" fill="#000" text-anchor="middle" >248,91</text>
<rect x="1337.5" y="550.5" width="20.5" height="18" fill="url(#gBtn)" stroke="#7e7e7e" stroke-width="1" rx="3" />
<rect x="1338.5" y="551.5" width="18.5" height="16" fill="none" stroke="#fbfbfb" stroke-width="1" rx="2" stroke-opacity="0.8"/>
<text transform="translate(1347.75 563.80) scale(0.86 1)" font-size="13" fill="#222" text-anchor="middle" >X</text>
<rect x="26.5" y="575.5" width="12" height="12" fill="url(#gChk)" stroke="#8e8f8f" stroke-width="1" />
<rect x="28" y="577" width="9" height="9" fill="url(#gChk)" />
<path d="M29.1,581.5 L31.6,585.3 L35.7,577.3" fill="none" stroke="#3d4e8f" stroke-width="1.9" stroke-linejoin="round" stroke-linecap="round"/>
<text transform="translate(207.00 586.00) scale(0.86 1)" font-size="12.5" fill="#000" text-anchor="middle" >FixedProfit</text>
<text transform="translate(1026.50 586.00) scale(0.86 1)" font-size="12.5" fill="#000" text-anchor="middle" >0</text>
<rect x="1337.5" y="572.5" width="20.5" height="18" fill="url(#gBtn)" stroke="#7e7e7e" stroke-width="1" rx="3" />
<rect x="1338.5" y="573.5" width="18.5" height="16" fill="none" stroke="#fbfbfb" stroke-width="1" rx="2" stroke-opacity="0.8"/>
<text transform="translate(1347.75 585.80) scale(0.86 1)" font-size="13" fill="#222" text-anchor="middle" >X</text>
<rect x="1002" y="592" width="50" height="22" fill="#86DA86" />
<rect x="26.5" y="597.5" width="12" height="12" fill="url(#gChk)" stroke="#8e8f8f" stroke-width="1" />
<rect x="28" y="599" width="9" height="9" fill="url(#gChk)" />
<path d="M29.1,603.5 L31.6,607.3 L35.7,599.3" fill="none" stroke="#3d4e8f" stroke-width="1.9" stroke-linejoin="round" stroke-linecap="round"/>
<text transform="translate(207.00 608.00) scale(0.86 1)" font-size="12.5" fill="#000" text-anchor="middle" >Итого:</text>
<text transform="translate(1026.50 608.00) scale(0.86 1)" font-size="12.5" fill="#000" text-anchor="middle" >836,37</text>
<text transform="translate(1168.50 608.00) scale(0.86 1)" font-size="12.5" fill="#000" text-anchor="middle" >0,31</text>
<text transform="translate(1220.50 608.00) scale(0.86 1)" font-size="12.5" fill="#000" text-anchor="middle" >0,000279</text>
<text transform="translate(1269.00 608.00) scale(0.86 1)" font-size="12.5" fill="#000" text-anchor="middle" >-920,16</text>
<text transform="translate(1313.00 608.00) scale(0.86 1)" font-size="12.5" fill="#000" text-anchor="middle" >-897,94</text>
<rect x="1337.5" y="594.5" width="20.5" height="18" fill="url(#gBtn)" stroke="#7e7e7e" stroke-width="1" rx="3" />
<rect x="1338.5" y="595.5" width="18.5" height="16" fill="none" stroke="#fbfbfb" stroke-width="1" rx="2" stroke-opacity="0.8"/>
<text transform="translate(1347.75 607.80) scale(0.86 1)" font-size="13" fill="#222" text-anchor="middle" >X</text>
<rect x="7" y="482" width="1354" height="1.15" fill="#111" />
<rect x="7" y="504" width="1354" height="1.15" fill="#111" />
<rect x="7" y="526" width="1354" height="1.15" fill="#111" />
<rect x="7" y="548" width="1354" height="1.15" fill="#111" />
<rect x="7" y="570" width="1354" height="1.15" fill="#111" />
<rect x="7" y="592" width="1354" height="1.15" fill="#111" />
<rect x="7" y="614" width="1354" height="1.15" fill="#111" />
<rect x="57" y="460" width="1.1" height="155" fill="#111" />
<rect x="357" y="460" width="1.1" height="155" fill="#111" />
<rect x="426" y="460" width="1.1" height="155" fill="#111" />
<rect x="513" y="460" width="1.1" height="155" fill="#111" />
<rect x="615" y="460" width="1.1" height="155" fill="#111" />
<rect x="687" y="460" width="1.1" height="155" fill="#111" />
<rect x="768" y="460" width="1.1" height="155" fill="#111" />
<rect x="895" y="460" width="1.1" height="155" fill="#111" />
<rect x="1001" y="460" width="1.1" height="155" fill="#111" />
<rect x="1052" y="460" width="1.1" height="155" fill="#111" />
<rect x="1143" y="460" width="1.1" height="155" fill="#111" />
<rect x="1194" y="460" width="1.1" height="155" fill="#111" />
<rect x="1247" y="460" width="1.1" height="155" fill="#111" />
<rect x="1291" y="460" width="1.1" height="155" fill="#111" />
<rect x="1335" y="460" width="1.1" height="155" fill="#111" />
<rect x="6" y="429" width="2" height="186" fill="#111" />
<rect x="1360.5" y="429" width="1.5" height="186" fill="#111" />
<rect x="8" y="615" width="1353" height="1.2" fill="#ffffff" />
<path d="M191.5,397.5 L191.5,414.5 L195.3,410.8 L198.3,416.8 L200.6,415.7 L197.7,409.9 L202.8,409.9 Z" fill="#ffffff" stroke="#1a1a1a" stroke-width="1" stroke-linejoin="miter"/></svg>
</body></html>
